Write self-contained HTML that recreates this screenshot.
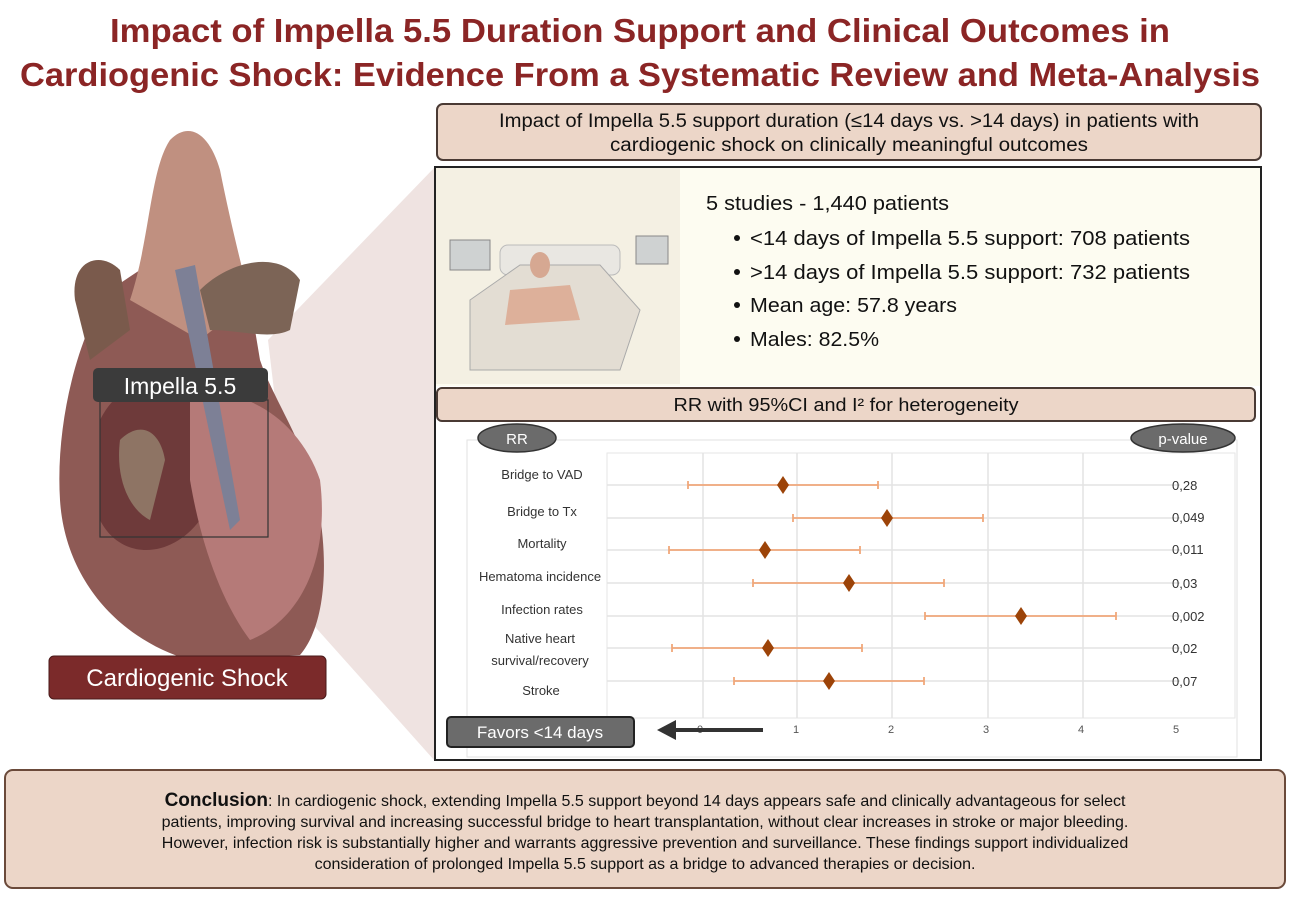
<!DOCTYPE html>
<html><head><meta charset="utf-8"><style>
html,body{margin:0;padding:0;background:#fff;}
svg{display:block;font-family:"Liberation Sans",sans-serif;}
</style></head><body>
<svg width="1289" height="899" viewBox="0 0 1289 899" xmlns="http://www.w3.org/2000/svg">
<rect width="1289" height="899" fill="#fff"/>
<!-- Title -->
<text x="640" y="42" text-anchor="middle" font-size="33" font-weight="bold" fill="#8b2525" textLength="1060" lengthAdjust="spacingAndGlyphs">Impact of Impella 5.5 Duration Support and Clinical Outcomes in</text>
<text x="640" y="86" text-anchor="middle" font-size="33" font-weight="bold" fill="#8b2525" textLength="1240" lengthAdjust="spacingAndGlyphs">Cardiogenic Shock: Evidence From a Systematic Review and Meta-Analysis</text>

<!-- wedge -->
<polygon points="268,340 434,168 434,760 300,610" fill="#efe3e1"/>

<!-- heart approximation -->
<g>
<path d="M110,290 C80,330 55,420 60,500 C65,580 120,640 190,660 L300,655 C330,620 330,540 310,470 C290,420 270,390 260,360 L250,300 C240,260 200,240 170,250 Z" fill="#8e5a55"/>
<path d="M75,300 C70,260 100,250 120,270 L130,330 L90,360 Z" fill="#7a5a4c"/>
<path d="M130,300 C150,240 150,170 170,140 C190,120 210,135 220,170 C230,220 240,260 250,300 L200,340 Z" fill="#c09080"/>
<path d="M200,290 C230,260 280,250 300,280 L290,330 C270,340 240,330 210,330 Z" fill="#7c6456"/>
<path d="M100,420 C120,380 160,370 190,400 L200,520 C170,560 120,560 100,520 Z" fill="#6e3a3a"/>
<path d="M190,400 C240,380 300,420 320,480 C330,560 300,620 250,640 C220,600 200,540 190,480 Z" fill="#b57a78"/>
<path d="M120,440 C140,420 160,430 165,460 L150,520 C130,510 115,480 120,440 Z" fill="#8e7464"/>
<path d="M175,270 L195,265 L240,520 L230,530 Z" fill="#7d8096"/>
</g>
<rect x="100" y="400" width="168" height="137" fill="none" stroke="#333" stroke-width="1.2"/>
<rect x="93" y="368" width="175" height="34" rx="5" fill="#3b3b3b"/>
<text x="180" y="394" text-anchor="middle" font-size="23" fill="#fff">Impella 5.5</text>
<rect x="49" y="656" width="277" height="43" rx="5" fill="#7b2a2a" stroke="#4a1a1a"/>
<text x="187" y="686" text-anchor="middle" font-size="24" fill="#fff">Cardiogenic Shock</text>

<!-- top banner -->
<rect x="437" y="104" width="824" height="56" rx="6" fill="#ecd6c8" stroke="#4a3a34" stroke-width="2"/>
<text x="849" y="127" text-anchor="middle" font-size="19" fill="#111" textLength="700" lengthAdjust="spacingAndGlyphs">Impact of Impella 5.5 support duration (≤14 days vs. &gt;14 days) in patients with</text>
<text x="849" y="151" text-anchor="middle" font-size="19" fill="#111" textLength="478" lengthAdjust="spacingAndGlyphs">cardiogenic shock on clinically meaningful outcomes</text>

<!-- main box -->
<rect x="435" y="167" width="826" height="593" fill="#fff" stroke="#222" stroke-width="2"/>
<rect x="436" y="168" width="824" height="218" fill="#fdfcf1"/>
<rect x="436" y="168" width="244" height="216" fill="#f4f0e3"/>
<rect x="450" y="240" width="40" height="30" fill="#cfd2d2" stroke="#888"/>
<rect x="636" y="236" width="32" height="28" fill="#cfd2d2" stroke="#888"/>
<rect x="500" y="245" width="120" height="30" rx="8" fill="#e9e7e2" stroke="#bbb"/>
<path d="M470,300 L520,265 L600,265 L640,310 L620,370 L470,370 Z" fill="#e3ddd3" stroke="#aaa"/>
<ellipse cx="540" cy="265" rx="10" ry="13" fill="#d6a892"/>
<path d="M510,290 L570,285 L580,320 L505,325 Z" fill="#ddb09a"/>

<text x="706" y="210" font-size="20" fill="#111" textLength="243" lengthAdjust="spacingAndGlyphs">5 studies - 1,440 patients</text>
<g font-size="20" fill="#111">
<circle cx="737" cy="238" r="3" fill="#111"/><text x="750" y="245" textLength="440" lengthAdjust="spacingAndGlyphs">&lt;14 days of Impella 5.5 support: 708 patients</text>
<circle cx="737" cy="272" r="3" fill="#111"/><text x="750" y="279" textLength="440" lengthAdjust="spacingAndGlyphs">&gt;14 days of Impella 5.5 support: 732 patients</text>
<circle cx="737" cy="305" r="3" fill="#111"/><text x="750" y="312" textLength="207" lengthAdjust="spacingAndGlyphs">Mean age: 57.8 years</text>
<circle cx="737" cy="339" r="3" fill="#111"/><text x="750" y="346" textLength="129" lengthAdjust="spacingAndGlyphs">Males: 82.5%</text>
</g>

<!-- RR header -->
<rect x="437" y="388" width="818" height="33" rx="5" fill="#ecd6c8" stroke="#4a3a34" stroke-width="2"/>
<text x="846" y="411" text-anchor="middle" font-size="18" fill="#111" textLength="345" lengthAdjust="spacingAndGlyphs">RR with 95%CI and I² for heterogeneity</text>

<!-- plot frame -->
<rect x="467" y="440" width="770" height="317" fill="#fff" stroke="#e2e2e2"/>
<rect x="607" y="453" width="628" height="265" fill="#fff" stroke="#e6e6e6"/>
<g stroke="#e3e3e3" stroke-width="1.5">
<line x1="703" y1="453" x2="703" y2="718"/><line x1="797" y1="453" x2="797" y2="718"/>
<line x1="892" y1="453" x2="892" y2="718"/><line x1="988" y1="453" x2="988" y2="718"/>
<line x1="1083" y1="453" x2="1083" y2="718"/>
<line x1="607" y1="485" x2="1180" y2="485"/><line x1="607" y1="518" x2="1180" y2="518"/>
<line x1="607" y1="550" x2="1180" y2="550"/><line x1="607" y1="583" x2="1180" y2="583"/>
<line x1="607" y1="616" x2="1180" y2="616"/><line x1="607" y1="648" x2="1180" y2="648"/>
<line x1="607" y1="681" x2="1180" y2="681"/>
</g>
<g stroke="#f0a77a" stroke-width="1.8">
<line x1="688" y1="485" x2="878" y2="485"/><line x1="688" y1="481" x2="688" y2="489"/><line x1="878" y1="481" x2="878" y2="489"/>
<line x1="793" y1="518" x2="983" y2="518"/><line x1="793" y1="514" x2="793" y2="522"/><line x1="983" y1="514" x2="983" y2="522"/>
<line x1="669" y1="550" x2="860" y2="550"/><line x1="669" y1="546" x2="669" y2="554"/><line x1="860" y1="546" x2="860" y2="554"/>
<line x1="753" y1="583" x2="944" y2="583"/><line x1="753" y1="579" x2="753" y2="587"/><line x1="944" y1="579" x2="944" y2="587"/>
<line x1="925" y1="616" x2="1116" y2="616"/><line x1="925" y1="612" x2="925" y2="620"/><line x1="1116" y1="612" x2="1116" y2="620"/>
<line x1="672" y1="648" x2="862" y2="648"/><line x1="672" y1="644" x2="672" y2="652"/><line x1="862" y1="644" x2="862" y2="652"/>
<line x1="734" y1="681" x2="924" y2="681"/><line x1="734" y1="677" x2="734" y2="685"/><line x1="924" y1="677" x2="924" y2="685"/>
</g>
<g fill="#9c4308">
<polygon points="783,476 789,485 783,494 777,485"/>
<polygon points="887,509 893,518 887,527 881,518"/>
<polygon points="765,541 771,550 765,559 759,550"/>
<polygon points="849,574 855,583 849,592 843,583"/>
<polygon points="1021,607 1027,616 1021,625 1015,616"/>
<polygon points="768,639 774,648 768,657 762,648"/>
<polygon points="829,672 835,681 829,690 823,681"/>
</g>
<g font-size="13" fill="#333" text-anchor="middle">
<text x="542" y="479">Bridge to VAD</text>
<text x="542" y="516">Bridge to Tx</text>
<text x="542" y="548">Mortality</text>
<text x="540" y="581">Hematoma incidence</text>
<text x="542" y="614">Infection rates</text>
<text x="540" y="643">Native heart</text>
<text x="540" y="665">survival/recovery</text>
<text x="541" y="695">Stroke</text>
</g>
<g font-size="13" fill="#333">
<text x="1172" y="490">0,28</text><text x="1172" y="522">0,049</text>
<text x="1172" y="554">0,011</text><text x="1172" y="588">0,03</text>
<text x="1172" y="621">0,002</text><text x="1172" y="653">0,02</text>
<text x="1172" y="686">0,07</text>
</g>
<g font-size="11" fill="#555" text-anchor="middle">
<text x="700" y="733">0</text><text x="796" y="733">1</text><text x="891" y="733">2</text>
<text x="986" y="733">3</text><text x="1081" y="733">4</text><text x="1176" y="733">5</text>
</g>
<ellipse cx="517" cy="438" rx="39" ry="14" fill="#6b6b6b" stroke="#333" stroke-width="1.5"/>
<text x="517" y="444" text-anchor="middle" font-size="15" fill="#fff">RR</text>
<ellipse cx="1183" cy="438" rx="52" ry="14" fill="#6b6b6b" stroke="#333" stroke-width="1.5"/>
<text x="1183" y="444" text-anchor="middle" font-size="15" fill="#fff">p-value</text>
<rect x="447" y="717" width="187" height="30" rx="4" fill="#6b6b6b" stroke="#222" stroke-width="2"/>
<text x="540" y="738" text-anchor="middle" font-size="17" fill="#fff">Favors &lt;14 days</text>
<line x1="670" y1="730" x2="763" y2="730" stroke="#333" stroke-width="4"/>
<polygon points="657,730 676,720 676,740" fill="#333"/>

<!-- conclusion -->
<rect x="5" y="770" width="1280" height="118" rx="8" fill="#ecd6c8" stroke="#6b4a3a" stroke-width="2"/>
<g font-size="16" fill="#111" text-anchor="middle">
<text x="645" y="806"><tspan font-weight="bold" font-size="19">Conclusion</tspan>: In cardiogenic shock, extending Impella 5.5 support beyond 14 days appears safe and clinically advantageous for select</text>
<text x="645" y="827">patients, improving survival and increasing successful bridge to heart transplantation, without clear increases in stroke or major bleeding.</text>
<text x="645" y="848">However, infection risk is substantially higher and warrants aggressive prevention and surveillance. These findings support individualized</text>
<text x="645" y="869">consideration of prolonged Impella 5.5 support as a bridge to advanced therapies or decision.</text>
</g>
</svg>
</body></html>
